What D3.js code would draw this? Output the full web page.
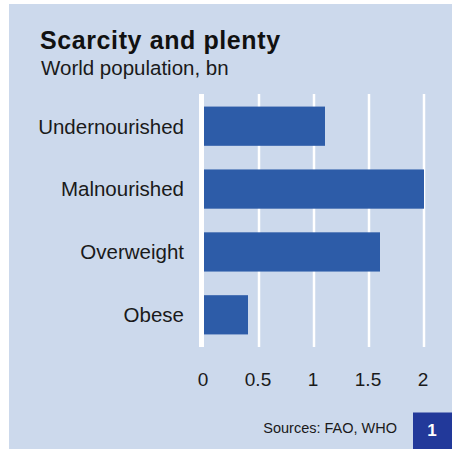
<!DOCTYPE html>
<html>
<head>
<meta charset="utf-8">
<script src="https://cdn.jsdelivr.net/npm/d3@7"></script>
<style>
  html, body { margin: 0; padding: 0; background: #ffffff; }
  svg { display: block; font-family: "Liberation Sans", Arial, Helvetica, sans-serif; }
</style>
</head>
<body>
<svg id="chart" width="452" height="449"></svg>
<script>
const categories = ["Undernourished", "Malnourished", "Overweight", "Obese"];
const values = [1.1, 2.0, 1.6, 0.4];
const tickValues = [0, 0.5, 1, 1.5, 2];
const tickLabels = ["0", "0.5", "1", "1.5", "2"];
const title = "Scarcity and plenty";
const subtitle = "World population, bn";
const source = "Sources: FAO, WHO";
const badge = "1";

const W = 452, H = 449;
const svg = d3.select("#chart");

// background panel
svg.append("rect").attr("x", 9).attr("y", 4).attr("width", W - 9).attr("height", H - 4)
  .attr("fill", "#ccd9ec");

const x = d3.scaleLinear().domain([0, 2]).range([204, 424]);
const y = d3.scaleBand().domain(categories).range([94, 347])
  .paddingInner(0.376).paddingOuter(0.2);

// grid lines
svg.append("g").selectAll("line").data(tickValues.filter(d => d !== 0)).join("line")
  .attr("x1", d => x(d)).attr("x2", d => x(d))
  .attr("y1", 94).attr("y2", 347)
  .attr("stroke", "#ffffff").attr("stroke-width", 2.5);

// zero line
svg.append("line").attr("x1", x(0) - 2.5).attr("x2", x(0) - 2.5)
  .attr("y1", 94).attr("y2", 347)
  .attr("stroke", "#ffffff").attr("stroke-width", 5);

// bars
svg.append("g").selectAll("rect").data(categories).join("rect")
  .attr("x", x(0))
  .attr("y", d => y(d))
  .attr("width", (d, i) => x(values[i]) - x(0))
  .attr("height", y.bandwidth())
  .attr("fill", "#2d5ca8");

// category labels
svg.append("g").selectAll("text").data(categories).join("text")
  .attr("x", 184)
  .attr("y", d => y(d) + y.bandwidth() / 2)
  .attr("dy", "0.36em")
  .attr("text-anchor", "end")
  .attr("font-size", 20.5)
  .attr("fill", "#1a1a1a")
  .text(d => d);

// x axis tick labels
const axis = d3.axisBottom(x).tickValues(tickValues)
  .tickFormat((d, i) => tickLabels[i]).tickSize(0).tickPadding(0);
const ax = svg.append("g").attr("transform", "translate(-1.5,386)").call(axis);
ax.select(".domain").remove();
ax.selectAll("text")
  .attr("y", 0).attr("dy", 0)
  .attr("font-size", 19)
  .attr("font-family", "Liberation Sans, Arial, sans-serif")
  .attr("fill", "#1a1a1a");

// title & subtitle
svg.append("text").attr("x", 40).attr("y", 48.5)
  .attr("font-size", 25).attr("font-weight", "bold").attr("fill", "#111111")
  .attr("letter-spacing", 0.6)
  .text(title);
svg.append("text").attr("x", 41).attr("y", 75)
  .attr("font-size", 20.5).attr("fill", "#1a1a1a")
  .text(subtitle);

// source
svg.append("text").attr("x", 397).attr("y", 433)
  .attr("text-anchor", "end")
  .attr("font-size", 14.5).attr("fill", "#1a1a1a")
  .text(source);

// badge
svg.append("rect").attr("x", 413).attr("y", 412.5).attr("width", W - 413).attr("height", H - 412.5)
  .attr("fill", "#22399a");
svg.append("text").attr("x", 432).attr("y", 435.5)
  .attr("text-anchor", "middle")
  .attr("font-size", 17).attr("font-weight", "bold").attr("fill", "#ffffff")
  .text(badge);
</script>
</body>
</html>
